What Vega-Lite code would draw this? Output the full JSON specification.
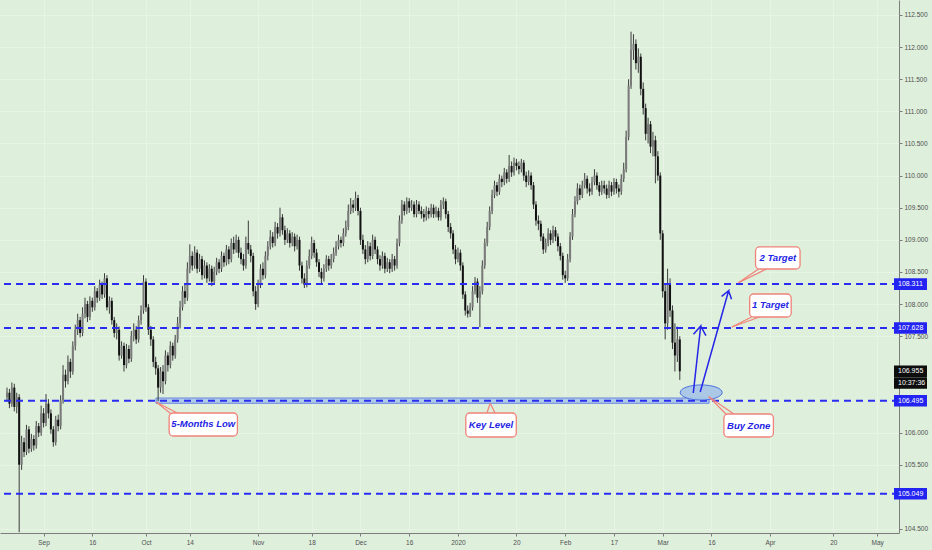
{
  "$schema": "https://vega.github.io/schema/vega-lite/v6.json",
  "width": 899,
  "height": 533,
  "autosize": {"type": "none"},
  "padding": {"left": 0, "top": 0, "right": 33, "bottom": 17},
  "config": {
    "background": "#deefdc",
    "view": {"stroke": null},
    "axis": {
      "gridColor": "#e8f4e6",
      "gridWidth": 1,
      "domainColor": "#7d7d7d",
      "tickColor": "#7d7d7d",
      "tickSize": 3,
      "labelColor": "#505050",
      "labelFont": "Liberation Sans",
      "labelFontSize": 6.5,
      "labelOverlap": false,
      "title": null
    },
    "axisY": {"labelOverlap": false},
    "axisQuantitative": {"labelOverlap": false}
  },
  "datasets": {
    "candles": [
      {"i":-7.5,"o":106.55,"h":106.70,"l":106.48,"c":106.62},
      {"i":-7,"o":106.62,"h":106.68,"l":106.38,"c":106.45},
      {"i":-6.5,"o":106.45,"h":106.78,"l":106.40,"c":106.70},
      {"i":-6,"o":106.70,"h":106.76,"l":106.33,"c":106.40},
      {"i":-5.5,"o":106.40,"h":106.62,"l":106.30,"c":106.55},
      {"i":-5,"o":106.55,"h":106.60,"l":104.45,"c":105.50},
      {"i":-4.5,"o":105.50,"h":105.95,"l":105.42,"c":105.85},
      {"i":-4,"o":105.85,"h":105.92,"l":105.62,"c":105.70},
      {"i":-3.5,"o":105.70,"h":106.12,"l":105.65,"c":106.05},
      {"i":-3,"o":106.05,"h":106.10,"l":105.68,"c":105.75},
      {"i":-2.5,"o":105.75,"h":105.98,"l":105.70,"c":105.90},
      {"i":-2,"o":105.90,"h":105.96,"l":105.72,"c":105.80},
      {"i":-1.5,"o":105.80,"h":106.18,"l":105.75,"c":106.10},
      {"i":-1,"o":106.10,"h":106.15,"l":105.93,"c":106.00},
      {"i":-0.5,"o":106.00,"h":106.42,"l":105.95,"c":106.30},
      {"i":0,"o":106.30,"h":106.38,"l":106.08,"c":106.15},
      {"i":0.5,"o":106.15,"h":106.60,"l":106.10,"c":106.45},
      {"i":1,"o":106.45,"h":106.52,"l":106.22,"c":106.30},
      {"i":1.5,"o":106.30,"h":106.36,"l":105.98,"c":106.05},
      {"i":2,"o":106.05,"h":106.10,"l":105.78,"c":105.85},
      {"i":2.5,"o":105.85,"h":106.26,"l":105.80,"c":106.20},
      {"i":3,"o":106.20,"h":106.28,"l":106.02,"c":106.10},
      {"i":3.5,"o":106.10,"h":106.58,"l":106.05,"c":106.50},
      {"i":4,"o":106.50,"h":107.05,"l":106.45,"c":106.90},
      {"i":4.5,"o":106.90,"h":106.98,"l":106.70,"c":106.80},
      {"i":5,"o":106.80,"h":107.20,"l":106.75,"c":107.10},
      {"i":5.5,"o":107.10,"h":107.15,"l":106.85,"c":106.95},
      {"i":6,"o":106.95,"h":107.42,"l":106.90,"c":107.35},
      {"i":6.5,"o":107.35,"h":107.68,"l":107.28,"c":107.60},
      {"i":7,"o":107.60,"h":107.85,"l":107.52,"c":107.75},
      {"i":7.5,"o":107.75,"h":107.80,"l":107.48,"c":107.55},
      {"i":8,"o":107.55,"h":107.95,"l":107.50,"c":107.85},
      {"i":8.5,"o":107.85,"h":108.10,"l":107.78,"c":108.00},
      {"i":9,"o":108.00,"h":108.05,"l":107.72,"c":107.80},
      {"i":9.5,"o":107.80,"h":108.12,"l":107.75,"c":108.05},
      {"i":10,"o":108.05,"h":108.10,"l":107.88,"c":107.95},
      {"i":10.5,"o":107.95,"h":108.28,"l":107.90,"c":108.20},
      {"i":11,"o":108.20,"h":108.25,"l":108.02,"c":108.10},
      {"i":11.5,"o":108.10,"h":108.38,"l":108.05,"c":108.30},
      {"i":12,"o":108.30,"h":108.35,"l":108.08,"c":108.15},
      {"i":12.5,"o":108.15,"h":108.48,"l":108.10,"c":108.40},
      {"i":13,"o":108.40,"h":108.45,"l":107.90,"c":107.95},
      {"i":13.5,"o":107.95,"h":108.12,"l":107.85,"c":108.05},
      {"i":14,"o":108.05,"h":108.10,"l":107.68,"c":107.75},
      {"i":14.5,"o":107.75,"h":107.80,"l":107.48,"c":107.55},
      {"i":15,"o":107.55,"h":107.70,"l":107.45,"c":107.60},
      {"i":15.5,"o":107.60,"h":107.65,"l":107.12,"c":107.20},
      {"i":16,"o":107.20,"h":107.42,"l":107.15,"c":107.35},
      {"i":16.5,"o":107.35,"h":107.40,"l":106.95,"c":107.05},
      {"i":17,"o":107.05,"h":107.38,"l":107.00,"c":107.30},
      {"i":17.5,"o":107.30,"h":107.36,"l":107.08,"c":107.15},
      {"i":18,"o":107.15,"h":107.58,"l":107.10,"c":107.50},
      {"i":18.5,"o":107.50,"h":107.70,"l":107.42,"c":107.60},
      {"i":19,"o":107.60,"h":107.66,"l":107.38,"c":107.45},
      {"i":19.5,"o":107.45,"h":107.82,"l":107.40,"c":107.75},
      {"i":20,"o":107.75,"h":107.98,"l":107.68,"c":107.90},
      {"i":20.5,"o":107.90,"h":108.45,"l":107.85,"c":108.35},
      {"i":21,"o":108.35,"h":108.40,"l":107.88,"c":107.95},
      {"i":21.5,"o":107.95,"h":108.00,"l":107.52,"c":107.60},
      {"i":22,"o":107.60,"h":107.66,"l":107.35,"c":107.45},
      {"i":22.5,"o":107.45,"h":107.50,"l":107.02,"c":107.10},
      {"i":23,"o":107.10,"h":107.18,"l":106.90,"c":107.00},
      {"i":23.5,"o":107.00,"h":107.05,"l":106.49,"c":106.70},
      {"i":24,"o":106.70,"h":107.02,"l":106.62,"c":106.95},
      {"i":24.5,"o":106.95,"h":107.05,"l":106.60,"c":106.80},
      {"i":25,"o":106.80,"h":107.28,"l":106.75,"c":107.20},
      {"i":25.5,"o":107.20,"h":107.25,"l":106.95,"c":107.05},
      {"i":26,"o":107.05,"h":107.42,"l":107.00,"c":107.35},
      {"i":26.5,"o":107.35,"h":107.40,"l":107.12,"c":107.20},
      {"i":27,"o":107.20,"h":107.52,"l":107.15,"c":107.45},
      {"i":27.5,"o":107.45,"h":107.80,"l":107.40,"c":107.70},
      {"i":28,"o":107.70,"h":108.05,"l":107.62,"c":107.95},
      {"i":28.5,"o":107.95,"h":108.28,"l":107.90,"c":108.20},
      {"i":29,"o":108.20,"h":108.30,"l":108.00,"c":108.10},
      {"i":29.5,"o":108.10,"h":108.65,"l":108.05,"c":108.55},
      {"i":30,"o":108.55,"h":108.93,"l":108.48,"c":108.75},
      {"i":30.5,"o":108.75,"h":108.82,"l":108.52,"c":108.60},
      {"i":31,"o":108.60,"h":108.90,"l":108.55,"c":108.80},
      {"i":31.5,"o":108.80,"h":108.85,"l":108.48,"c":108.55},
      {"i":32,"o":108.55,"h":108.78,"l":108.50,"c":108.70},
      {"i":32.5,"o":108.70,"h":108.75,"l":108.38,"c":108.45},
      {"i":33,"o":108.45,"h":108.68,"l":108.40,"c":108.60},
      {"i":33.5,"o":108.60,"h":108.65,"l":108.33,"c":108.40},
      {"i":34,"o":108.40,"h":108.62,"l":108.35,"c":108.55},
      {"i":34.5,"o":108.55,"h":108.60,"l":108.28,"c":108.35},
      {"i":35,"o":108.35,"h":108.58,"l":108.30,"c":108.50},
      {"i":35.5,"o":108.50,"h":108.72,"l":108.45,"c":108.65},
      {"i":36,"o":108.65,"h":108.70,"l":108.48,"c":108.55},
      {"i":36.5,"o":108.55,"h":108.82,"l":108.50,"c":108.75},
      {"i":37,"o":108.75,"h":108.80,"l":108.58,"c":108.65},
      {"i":37.5,"o":108.65,"h":108.92,"l":108.60,"c":108.85},
      {"i":38,"o":108.85,"h":108.90,"l":108.62,"c":108.70},
      {"i":38.5,"o":108.70,"h":109.02,"l":108.65,"c":108.95},
      {"i":39,"o":108.95,"h":109.05,"l":108.78,"c":108.85},
      {"i":39.5,"o":108.85,"h":109.08,"l":108.80,"c":109.00},
      {"i":40,"o":109.00,"h":109.05,"l":108.72,"c":108.80},
      {"i":40.5,"o":108.80,"h":108.88,"l":108.62,"c":108.70},
      {"i":41,"o":108.70,"h":108.78,"l":108.52,"c":108.60},
      {"i":41.5,"o":108.60,"h":109.05,"l":108.55,"c":108.95},
      {"i":42,"o":108.95,"h":109.30,"l":108.78,"c":108.85},
      {"i":42.5,"o":108.85,"h":108.92,"l":108.65,"c":108.75},
      {"i":43,"o":108.75,"h":108.80,"l":108.12,"c":108.20},
      {"i":43.5,"o":108.20,"h":108.28,"l":107.91,"c":108.00},
      {"i":44,"o":108.00,"h":108.38,"l":107.95,"c":108.30},
      {"i":44.5,"o":108.30,"h":108.62,"l":108.25,"c":108.55},
      {"i":45,"o":108.55,"h":108.65,"l":108.38,"c":108.45},
      {"i":45.5,"o":108.45,"h":108.82,"l":108.40,"c":108.75},
      {"i":46,"o":108.75,"h":108.98,"l":108.68,"c":108.90},
      {"i":46.5,"o":108.90,"h":109.15,"l":108.85,"c":109.05},
      {"i":47,"o":109.05,"h":109.12,"l":108.88,"c":108.95},
      {"i":47.5,"o":108.95,"h":109.28,"l":108.90,"c":109.20},
      {"i":48,"o":109.20,"h":109.26,"l":109.02,"c":109.10},
      {"i":48.5,"o":109.10,"h":109.50,"l":109.05,"c":109.35},
      {"i":49,"o":109.35,"h":109.40,"l":109.08,"c":109.15},
      {"i":49.5,"o":109.15,"h":109.22,"l":108.92,"c":109.00},
      {"i":50,"o":109.00,"h":109.18,"l":108.95,"c":109.10},
      {"i":50.5,"o":109.10,"h":109.15,"l":108.88,"c":108.95},
      {"i":51,"o":108.95,"h":109.12,"l":108.90,"c":109.05},
      {"i":51.5,"o":109.05,"h":109.10,"l":108.82,"c":108.90},
      {"i":52,"o":108.90,"h":109.08,"l":108.85,"c":109.00},
      {"i":52.5,"o":109.00,"h":109.05,"l":108.52,"c":108.60},
      {"i":53,"o":108.60,"h":108.66,"l":108.32,"c":108.40},
      {"i":53.5,"o":108.40,"h":108.48,"l":108.25,"c":108.30},
      {"i":54,"o":108.30,"h":108.68,"l":108.26,"c":108.60},
      {"i":54.5,"o":108.60,"h":108.85,"l":108.55,"c":108.75},
      {"i":55,"o":108.75,"h":109.05,"l":108.70,"c":108.95},
      {"i":55.5,"o":108.95,"h":109.00,"l":108.72,"c":108.80},
      {"i":56,"o":108.80,"h":108.86,"l":108.58,"c":108.65},
      {"i":56.5,"o":108.65,"h":108.70,"l":108.42,"c":108.50},
      {"i":57,"o":108.50,"h":108.56,"l":108.32,"c":108.40},
      {"i":57.5,"o":108.40,"h":108.62,"l":108.35,"c":108.55},
      {"i":58,"o":108.55,"h":108.76,"l":108.50,"c":108.70},
      {"i":58.5,"o":108.70,"h":108.75,"l":108.52,"c":108.60},
      {"i":59,"o":108.60,"h":108.78,"l":108.55,"c":108.70},
      {"i":59.5,"o":108.70,"h":108.88,"l":108.65,"c":108.80},
      {"i":60,"o":108.80,"h":108.98,"l":108.75,"c":108.90},
      {"i":60.5,"o":108.90,"h":109.08,"l":108.85,"c":109.00},
      {"i":61,"o":109.00,"h":109.05,"l":108.88,"c":108.95},
      {"i":61.5,"o":108.95,"h":109.18,"l":108.90,"c":109.10},
      {"i":62,"o":109.10,"h":109.30,"l":109.05,"c":109.20},
      {"i":62.5,"o":109.20,"h":109.55,"l":109.15,"c":109.45},
      {"i":63,"o":109.45,"h":109.65,"l":109.40,"c":109.55},
      {"i":63.5,"o":109.55,"h":109.62,"l":109.42,"c":109.50},
      {"i":64,"o":109.50,"h":109.75,"l":109.45,"c":109.65},
      {"i":64.5,"o":109.65,"h":109.70,"l":109.38,"c":109.45},
      {"i":65,"o":109.45,"h":109.50,"l":108.92,"c":109.00},
      {"i":65.5,"o":109.00,"h":109.08,"l":108.78,"c":108.85},
      {"i":66,"o":108.85,"h":108.92,"l":108.62,"c":108.70},
      {"i":66.5,"o":108.70,"h":108.98,"l":108.65,"c":108.90},
      {"i":67,"o":108.90,"h":108.96,"l":108.68,"c":108.75},
      {"i":67.5,"o":108.75,"h":109.08,"l":108.70,"c":109.00},
      {"i":68,"o":109.00,"h":109.05,"l":108.78,"c":108.85},
      {"i":68.5,"o":108.85,"h":108.90,"l":108.62,"c":108.70},
      {"i":69,"o":108.70,"h":108.76,"l":108.52,"c":108.60},
      {"i":69.5,"o":108.60,"h":108.82,"l":108.55,"c":108.75},
      {"i":70,"o":108.75,"h":108.80,"l":108.48,"c":108.55},
      {"i":70.5,"o":108.55,"h":108.72,"l":108.50,"c":108.65},
      {"i":71,"o":108.65,"h":108.70,"l":108.48,"c":108.55},
      {"i":71.5,"o":108.55,"h":108.78,"l":108.50,"c":108.70},
      {"i":72,"o":108.70,"h":108.75,"l":108.52,"c":108.60},
      {"i":72.5,"o":108.60,"h":109.02,"l":108.55,"c":108.95},
      {"i":73,"o":108.95,"h":109.38,"l":108.90,"c":109.30},
      {"i":73.5,"o":109.30,"h":109.62,"l":109.25,"c":109.55},
      {"i":74,"o":109.55,"h":109.60,"l":109.38,"c":109.45},
      {"i":74.5,"o":109.45,"h":109.66,"l":109.40,"c":109.60},
      {"i":75,"o":109.60,"h":109.65,"l":109.42,"c":109.50},
      {"i":75.5,"o":109.50,"h":109.62,"l":109.45,"c":109.55},
      {"i":76,"o":109.55,"h":109.60,"l":109.35,"c":109.40},
      {"i":76.5,"o":109.40,"h":109.62,"l":109.35,"c":109.55},
      {"i":77,"o":109.55,"h":109.60,"l":109.40,"c":109.45},
      {"i":77.5,"o":109.45,"h":109.52,"l":109.33,"c":109.40},
      {"i":78,"o":109.40,"h":109.48,"l":109.28,"c":109.35},
      {"i":78.5,"o":109.35,"h":109.52,"l":109.30,"c":109.45},
      {"i":79,"o":109.45,"h":109.50,"l":109.33,"c":109.40},
      {"i":79.5,"o":109.40,"h":109.56,"l":109.35,"c":109.50},
      {"i":80,"o":109.50,"h":109.55,"l":109.34,"c":109.40},
      {"i":80.5,"o":109.40,"h":109.52,"l":109.35,"c":109.45},
      {"i":81,"o":109.45,"h":109.50,"l":109.30,"c":109.35},
      {"i":81.5,"o":109.35,"h":109.62,"l":109.30,"c":109.55},
      {"i":82,"o":109.55,"h":109.66,"l":109.48,"c":109.60},
      {"i":82.5,"o":109.60,"h":109.64,"l":109.33,"c":109.40},
      {"i":83,"o":109.40,"h":109.45,"l":109.12,"c":109.20},
      {"i":83.5,"o":109.20,"h":109.26,"l":109.02,"c":109.10},
      {"i":84,"o":109.10,"h":109.15,"l":108.78,"c":108.85},
      {"i":84.5,"o":108.85,"h":108.92,"l":108.62,"c":108.70},
      {"i":85,"o":108.70,"h":108.88,"l":108.65,"c":108.80},
      {"i":85.5,"o":108.80,"h":108.85,"l":108.52,"c":108.60},
      {"i":86,"o":108.60,"h":108.65,"l":108.08,"c":108.15},
      {"i":86.5,"o":108.15,"h":108.20,"l":107.82,"c":107.90},
      {"i":87,"o":107.90,"h":107.98,"l":107.79,"c":107.85},
      {"i":87.5,"o":107.85,"h":108.02,"l":107.80,"c":107.95},
      {"i":88,"o":107.95,"h":108.28,"l":107.90,"c":108.20},
      {"i":88.5,"o":108.20,"h":108.42,"l":108.15,"c":108.35},
      {"i":89,"o":108.35,"h":108.40,"l":108.02,"c":108.10},
      {"i":89.5,"o":108.10,"h":108.28,"l":107.64,"c":108.20},
      {"i":90,"o":108.20,"h":108.68,"l":108.15,"c":108.60},
      {"i":90.5,"o":108.60,"h":109.02,"l":108.55,"c":108.95},
      {"i":91,"o":108.95,"h":109.28,"l":108.90,"c":109.20},
      {"i":91.5,"o":109.20,"h":109.52,"l":109.15,"c":109.45},
      {"i":92,"o":109.45,"h":109.78,"l":109.40,"c":109.70},
      {"i":92.5,"o":109.70,"h":109.92,"l":109.65,"c":109.85},
      {"i":93,"o":109.85,"h":109.90,"l":109.68,"c":109.75},
      {"i":93.5,"o":109.75,"h":110.02,"l":109.70,"c":109.95},
      {"i":94,"o":109.95,"h":110.00,"l":109.82,"c":109.90},
      {"i":94.5,"o":109.90,"h":110.12,"l":109.85,"c":110.05},
      {"i":95,"o":110.05,"h":110.10,"l":109.88,"c":109.95},
      {"i":95.5,"o":109.95,"h":110.32,"l":109.90,"c":110.15},
      {"i":96,"o":110.15,"h":110.22,"l":109.98,"c":110.05},
      {"i":96.5,"o":110.05,"h":110.28,"l":110.00,"c":110.20},
      {"i":97,"o":110.20,"h":110.26,"l":110.08,"c":110.15},
      {"i":97.5,"o":110.15,"h":110.22,"l":110.02,"c":110.10},
      {"i":98,"o":110.10,"h":110.26,"l":110.05,"c":110.20},
      {"i":98.5,"o":110.20,"h":110.24,"l":109.92,"c":110.00},
      {"i":99,"o":110.00,"h":110.06,"l":109.82,"c":109.90},
      {"i":99.5,"o":109.90,"h":110.08,"l":109.85,"c":110.00},
      {"i":100,"o":110.00,"h":110.05,"l":109.78,"c":109.85},
      {"i":100.5,"o":109.85,"h":109.90,"l":109.48,"c":109.55},
      {"i":101,"o":109.55,"h":109.60,"l":109.22,"c":109.30},
      {"i":101.5,"o":109.30,"h":109.38,"l":109.15,"c":109.25},
      {"i":102,"o":109.25,"h":109.30,"l":108.98,"c":109.05},
      {"i":102.5,"o":109.05,"h":109.10,"l":108.78,"c":108.85},
      {"i":103,"o":108.85,"h":109.02,"l":108.80,"c":108.95},
      {"i":103.5,"o":108.95,"h":109.18,"l":108.90,"c":109.10},
      {"i":104,"o":109.10,"h":109.15,"l":108.92,"c":109.00},
      {"i":104.5,"o":109.00,"h":109.22,"l":108.95,"c":109.15},
      {"i":105,"o":109.15,"h":109.20,"l":108.98,"c":109.05},
      {"i":105.5,"o":109.05,"h":109.10,"l":108.82,"c":108.90},
      {"i":106,"o":108.90,"h":108.95,"l":108.68,"c":108.75},
      {"i":106.5,"o":108.75,"h":108.80,"l":108.38,"c":108.45},
      {"i":107,"o":108.45,"h":108.52,"l":108.33,"c":108.40},
      {"i":107.5,"o":108.40,"h":108.78,"l":108.36,"c":108.70},
      {"i":108,"o":108.70,"h":109.12,"l":108.65,"c":109.05},
      {"i":108.5,"o":109.05,"h":109.48,"l":109.00,"c":109.40},
      {"i":109,"o":109.40,"h":109.68,"l":109.35,"c":109.60},
      {"i":109.5,"o":109.60,"h":109.88,"l":109.55,"c":109.80},
      {"i":110,"o":109.80,"h":109.86,"l":109.62,"c":109.70},
      {"i":110.5,"o":109.70,"h":109.92,"l":109.65,"c":109.85},
      {"i":111,"o":109.85,"h":110.04,"l":109.80,"c":109.95},
      {"i":111.5,"o":109.95,"h":110.00,"l":109.72,"c":109.80},
      {"i":112,"o":109.80,"h":109.88,"l":109.68,"c":109.75},
      {"i":112.5,"o":109.75,"h":109.98,"l":109.70,"c":109.90},
      {"i":113,"o":109.90,"h":110.10,"l":109.85,"c":110.00},
      {"i":113.5,"o":110.00,"h":110.05,"l":109.78,"c":109.85},
      {"i":114,"o":109.85,"h":109.90,"l":109.68,"c":109.75},
      {"i":114.5,"o":109.75,"h":109.92,"l":109.70,"c":109.85},
      {"i":115,"o":109.85,"h":109.92,"l":109.72,"c":109.80},
      {"i":115.5,"o":109.80,"h":109.86,"l":109.64,"c":109.70},
      {"i":116,"o":109.70,"h":109.92,"l":109.65,"c":109.85},
      {"i":116.5,"o":109.85,"h":109.90,"l":109.68,"c":109.75},
      {"i":117,"o":109.75,"h":109.96,"l":109.70,"c":109.90},
      {"i":117.5,"o":109.90,"h":109.95,"l":109.72,"c":109.80},
      {"i":118,"o":109.80,"h":109.86,"l":109.66,"c":109.75},
      {"i":118.5,"o":109.75,"h":110.02,"l":109.70,"c":109.95},
      {"i":119,"o":109.95,"h":110.20,"l":109.90,"c":110.10},
      {"i":119.5,"o":110.10,"h":110.70,"l":110.05,"c":110.60},
      {"i":120,"o":110.60,"h":111.50,"l":110.55,"c":111.40},
      {"i":120.5,"o":111.40,"h":112.24,"l":111.35,"c":111.95},
      {"i":121,"o":111.95,"h":112.20,"l":111.80,"c":112.05},
      {"i":121.5,"o":112.05,"h":112.12,"l":111.65,"c":111.75},
      {"i":122,"o":111.75,"h":111.98,"l":111.60,"c":111.85},
      {"i":122.5,"o":111.85,"h":111.90,"l":111.25,"c":111.35},
      {"i":123,"o":111.35,"h":111.45,"l":110.95,"c":111.05},
      {"i":123.5,"o":111.05,"h":111.12,"l":110.55,"c":110.65},
      {"i":124,"o":110.65,"h":110.90,"l":110.50,"c":110.80},
      {"i":124.5,"o":110.80,"h":110.85,"l":110.35,"c":110.45},
      {"i":125,"o":110.45,"h":110.68,"l":110.30,"c":110.55},
      {"i":125.5,"o":110.55,"h":110.62,"l":109.88,"c":110.30},
      {"i":126,"o":110.30,"h":110.38,"l":109.92,"c":110.00},
      {"i":126.5,"o":110.00,"h":110.05,"l":109.00,"c":109.10},
      {"i":127,"o":109.10,"h":109.15,"l":108.10,"c":108.20},
      {"i":127.5,"o":108.20,"h":108.30,"l":107.45,"c":107.70},
      {"i":128,"o":107.70,"h":108.55,"l":107.60,"c":108.30},
      {"i":128.5,"o":108.30,"h":108.40,"l":107.80,"c":107.90},
      {"i":129,"o":107.90,"h":107.98,"l":107.30,"c":107.40},
      {"i":129.5,"o":107.40,"h":107.70,"l":106.95,"c":107.20},
      {"i":130,"o":107.20,"h":107.65,"l":107.10,"c":107.45},
      {"i":130.5,"o":107.45,"h":107.50,"l":106.82,"c":106.955}
    ],
    "levels": [
      {"p": 108.311, "label": "108.311", "kind": "level"},
      {"p": 107.628, "label": "107.628", "kind": "level"},
      {"p": 106.495, "label": "106.495", "kind": "level"},
      {"p": 105.049, "label": "105.049", "kind": "level"}
    ],
    "tags": [
      {"p": 108.311, "label": "108.311", "kind": "level"},
      {"p": 107.628, "label": "107.628", "kind": "level"},
      {"p": 106.495, "label": "106.495", "kind": "level"},
      {"p": 105.049, "label": "105.049", "kind": "level"},
      {"p": 106.955, "label": "106.955", "kind": "last"},
      {"p": 106.772, "label": "10:37:36", "kind": "last"}
    ],
    "zone": [
      {"i0": 23.06, "i1": 136.51, "p0": 106.538, "p1": 106.456}
    ],
    "ellipse": [
      {"i": 134.89, "p": 106.624}
    ],
    "arrows": [
      {"arrow": "a1", "k": 1, "i": 133.27, "p": 106.616},
      {"arrow": "a1", "k": 2, "i": 134.79, "p": 107.659},
      {"arrow": "a1", "k": 3, "i": 133.31, "p": 107.530},
      {"arrow": "a1", "k": 4, "i": 134.79, "p": 107.659},
      {"arrow": "a1", "k": 5, "i": 135.86, "p": 107.508},
      {"arrow": "a2", "k": 1, "i": 134.69, "p": 106.632},
      {"arrow": "a2", "k": 2, "i": 140.51, "p": 108.208},
      {"arrow": "a2", "k": 3, "i": 139.09, "p": 108.120},
      {"arrow": "a2", "k": 4, "i": 140.51, "p": 108.208},
      {"arrow": "a2", "k": 5, "i": 141.12, "p": 108.076}
    ],
    "pointers": [
      {"i0": 23.18, "p0": 106.472, "i1": 26.17, "p1": 106.289},
      {"i0": 23.18, "p0": 106.472, "i1": 27.79, "p1": 106.289},
      {"i0": 91.62, "p0": 106.456, "i1": 90.87, "p1": 106.289},
      {"i0": 91.62, "p0": 106.456, "i1": 92.70, "p1": 106.289},
      {"i0": 136.45, "p0": 106.559, "i1": 139.96, "p1": 106.289},
      {"i0": 136.45, "p0": 106.559, "i1": 141.58, "p1": 106.289},
      {"i0": 141.18, "p0": 107.644, "i1": 145.23, "p1": 107.799},
      {"i0": 141.18, "p0": 107.644, "i1": 146.86, "p1": 107.799},
      {"i0": 142.54, "p0": 108.333, "i1": 146.65, "p1": 108.546},
      {"i0": 142.54, "p0": 108.333, "i1": 148.28, "p1": 108.546}
    ],
    "notes": [
      {"label": "5-Months Low", "i0": 25.76, "i1": 39.76, "p0": 106.305, "p1": 105.947, "i": 32.76, "p": 106.126},
      {"label": "Key Level", "i0": 86.61, "i1": 96.96, "p0": 106.305, "p1": 105.931, "i": 91.79, "p": 106.118},
      {"label": "Buy Zone", "i0": 139.55, "i1": 149.70, "p0": 106.289, "p1": 105.931, "i": 144.63, "p": 106.110},
      {"label": "1 Target", "i0": 144.83, "i1": 153.35, "p0": 108.157, "p1": 107.799, "i": 149.09, "p": 107.978},
      {"label": "2 Target", "i0": 146.04, "i1": 155.17, "p0": 108.889, "p1": 108.546, "i": 150.60, "p": 108.717}
    ]
  },
  "layer": [
    {
      "data": {"name": "zone"},
      "mark": {"type": "rect", "fill": "#afcbe6", "stroke": "#6a86e0", "strokeWidth": 1},
      "encoding": {
        "x": {
          "field": "i0", "type": "quantitative",
          "scale": {"domain": [-7.91, 174.44], "nice": false, "zero": false},
          "axis": {
            "orient": "bottom",
            "title": null,
            "values": [0, 10, 21, 30, 44, 55, 65, 75, 85, 97, 107, 117, 127, 137, 149, 162, 171],
            "labelExpr": "{'0':'Sep','10':'16','21':'Oct','30':'14','44':'Nov','55':'18','65':'Dec','75':'16','85':'2020','97':'20','107':'Feb','117':'17','127':'Mar','137':'16','149':'Apr','162':'20','171':'May'}[datum.value + '']",
            "labelPadding": 3,
            "labelFlush": false,
            "labelOverlap": false,
            "grid": true
          }
        },
        "x2": {"field": "i1"},
        "y": {
          "field": "p0", "type": "quantitative",
          "scale": {"domain": [104.437, 112.733], "nice": false, "zero": false},
          "axis": {
            "orient": "right",
            "title": null,
            "values": [104.5, 105.5, 106, 107.5, 108, 108.5, 109, 109.5, 110, 110.5, 111, 111.5, 112, 112.5],
            "format": ".3f",
            "labelPadding": 2,
            "labelFlush": false,
            "labelOverlap": false,
            "labelSeparation": 0,
            "grid": true
          }
        },
        "y2": {"field": "p1"}
      }
    },
    {
      "data": {"name": "candles"},
      "mark": {"type": "rule", "color": "#3c3c3c", "strokeWidth": 1},
      "encoding": {
        "x": {"field": "i", "type": "quantitative"},
        "y": {"field": "l", "type": "quantitative"},
        "y2": {"field": "h"}
      }
    },
    {
      "data": {"name": "candles"},
      "mark": {"type": "bar", "size": 2},
      "encoding": {
        "x": {"field": "i", "type": "quantitative"},
        "y": {"field": "o", "type": "quantitative"},
        "y2": {"field": "c"},
        "color": {
          "condition": {"test": "datum.c >= datum.o", "value": "#7a7a7a"},
          "value": "#111111"
        }
      }
    },
    {
      "data": {"name": "levels"},
      "mark": {"type": "rule", "color": "#2a2cf2", "strokeWidth": 2, "strokeDash": [7, 5]},
      "encoding": {
        "y": {"field": "p", "type": "quantitative"}
      }
    },
    {
      "data": {"name": "ellipse"},
      "mark": {
        "type": "point",
        "shape": "M-1,0A1,0.36,0,1,0,1,0A1,0.36,0,1,0,-1,0Z",
        "size": 1764,
        "filled": true,
        "fill": "#a8c6e6",
        "fillOpacity": 0.95,
        "stroke": "#4d6fe2",
        "strokeWidth": 1,
        "opacity": 1
      },
      "encoding": {
        "x": {"field": "i", "type": "quantitative"},
        "y": {"field": "p", "type": "quantitative"}
      }
    },
    {
      "data": {"name": "arrows"},
      "mark": {"type": "line", "color": "#2626e8", "strokeWidth": 1.5, "strokeJoin": "miter"},
      "encoding": {
        "x": {"field": "i", "type": "quantitative"},
        "y": {"field": "p", "type": "quantitative"},
        "detail": {"field": "arrow"},
        "order": {"field": "k"}
      }
    },
    {
      "data": {"name": "pointers"},
      "mark": {"type": "rule", "color": "#f0837a", "strokeWidth": 1.2},
      "encoding": {
        "x": {"field": "i0", "type": "quantitative"},
        "y": {"field": "p0", "type": "quantitative"},
        "x2": {"field": "i1"},
        "y2": {"field": "p1"}
      }
    },
    {
      "data": {"name": "notes"},
      "mark": {"type": "rect", "fill": "white", "stroke": "#f0837a", "strokeWidth": 1.3, "cornerRadius": 4},
      "encoding": {
        "x": {"field": "i0", "type": "quantitative"},
        "x2": {"field": "i1"},
        "y": {"field": "p0", "type": "quantitative"},
        "y2": {"field": "p1"}
      }
    },
    {
      "data": {"name": "notes"},
      "mark": {
        "type": "text",
        "font": "Liberation Sans",
        "fontSize": 9.5,
        "fontStyle": "italic",
        "fontWeight": "bold",
        "color": "#2424e6",
        "align": "center",
        "baseline": "middle"
      },
      "encoding": {
        "x": {"field": "i", "type": "quantitative"},
        "y": {"field": "p", "type": "quantitative"},
        "text": {"field": "label"}
      }
    },
    {
      "data": {"name": "tags"},
      "mark": {
        "type": "point",
        "shape": "M-1,-0.35H1V0.35H-1Z",
        "size": 1089,
        "filled": true,
        "opacity": 1,
        "xOffset": 16.5
      },
      "encoding": {
        "x": {"datum": 174.44, "type": "quantitative"},
        "y": {"field": "p", "type": "quantitative"},
        "color": {
          "field": "kind", "type": "nominal",
          "scale": {"domain": ["level", "last"], "range": ["#2424f2", "#0d0d0d"]},
          "legend": null
        }
      }
    },
    {
      "data": {"name": "tags"},
      "mark": {
        "type": "text",
        "font": "Liberation Sans",
        "fontSize": 7,
        "color": "white",
        "align": "left",
        "baseline": "middle",
        "dx": 4
      },
      "encoding": {
        "x": {"datum": 174.44, "type": "quantitative"},
        "y": {"field": "p", "type": "quantitative"},
        "text": {"field": "label"}
      }
    }
  ]
}
